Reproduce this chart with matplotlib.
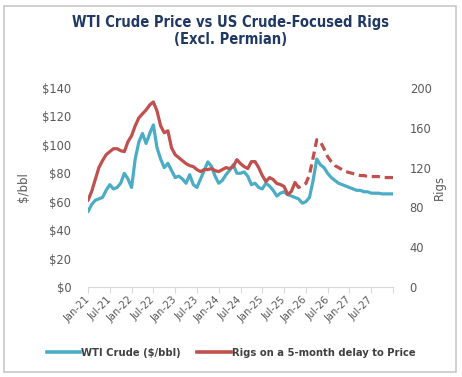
import matplotlib
matplotlib.use('Agg')
import matplotlib.pyplot as plt
from matplotlib.lines import Line2D
from matplotlib.patches import Rectangle

# monthly data, Jan-21 .. Jan-28 (index 0..84)
wti_price = [53, 58, 61, 62, 63, 68, 72, 69, 70, 73, 80, 76, 70, 90, 102, 108,
             101, 108, 114, 98, 90, 84, 87, 82, 77, 78, 76, 73, 79, 72, 70, 76,
             82, 88, 85, 78, 73, 75, 79, 82, 86, 80, 80, 81, 78, 72, 73, 70,
             69, 73, 71, 68, 64, 66, 67, 65, 64, 63, 62, 59, 60, 63, 75, 90,
             86, 84, 80, 77, 75, 73, 72, 71, 70, 69, 68, 68, 67, 67, 66, 66,
             66, 65.5, 65.5, 65.5, 65.5]
rigs_delayed = [87, 96, 108, 120, 127, 133, 136, 139, 139, 137, 136, 146, 152,
                162, 170, 174, 178, 183, 186, 177, 162, 155, 157, 140, 133, 130,
                127, 124, 122, 121, 118, 116, 118, 118, 119, 117, 116, 118, 120,
                119, 121, 128, 124, 121, 119, 126, 126, 120, 112, 106, 110, 108,
                104, 103, 101, 93, 96, 105, 100, 102, 104, 113, 130, 148, 146,
                139, 131, 126, 122, 120, 118, 116, 115, 114, 113, 112, 112, 111,
                111, 111, 111, 110, 110, 110, 110]
last_actual = 57  # rigs after this month are projected (dashed)

tick_labels = ['Jan-21', 'Jul-21', 'Jan-22', 'Jul-22', 'Jan-23', 'Jul-23', 'Jan-24',
               'Jul-24', 'Jan-25', 'Jul-25', 'Jan-26', 'Jul-26', 'Jan-27', 'Jul-27']
price_ticks = [0, 20, 40, 60, 80, 100, 120, 140]
rig_ticks = [0, 40, 80, 120, 160, 200]

BLUE = '#4BACC6'
RED = '#C0504D'
GRAY = '#595959'

months = list(range(len(wti_price)))

fig = plt.figure(figsize=(4.62, 3.77), dpi=100)
fig.patches.append(Rectangle((4 / 462, 5 / 377), 452 / 462, 366 / 377,
                             transform=fig.transFigure, fill=False,
                             edgecolor='#C8C8C8', linewidth=1.2))

ax = fig.add_axes([88 / 462, 90 / 377, 305 / 462, 199 / 377])
ax2 = ax.twinx()

ax.plot(months, wti_price, color=BLUE, linewidth=2.3, solid_capstyle='round', zorder=3)
ax2.plot(months[:last_actual + 1], rigs_delayed[:last_actual + 1], color=RED,
         linewidth=2.3, solid_capstyle='round')
ax2.plot(months[last_actual:], rigs_delayed[last_actual:], color=RED,
         linewidth=2.3, dashes=(2.6, 1.5))

ax.set_xlim(0, 84)
ax.set_ylim(0, 140)
ax2.set_ylim(0, 200)

ax.set_yticks(price_ticks)
ax.set_yticklabels(['$%d' % v for v in price_ticks])
ax2.set_yticks(rig_ticks)
ax.set_xticks(range(0, 85, 6))
ax.set_xticklabels(tick_labels + [''], rotation=45, ha='right',
                   rotation_mode='anchor', va='center')

for a in (ax, ax2):
    for s in ('top', 'left', 'right'):
        a.spines[s].set_visible(False)
    a.spines['bottom'].set_color('#D9D9D9')

ax.tick_params(axis='y', length=0, pad=12, labelsize=8.3, labelcolor=GRAY)
ax2.tick_params(axis='y', length=0, pad=12, labelsize=8.3, labelcolor=GRAY)
ax.tick_params(axis='x', length=4, color='#D9D9D9', labelsize=7.2,
               labelcolor=GRAY, pad=4)

ax.set_ylabel('$/bbl', fontsize=8.5, color=GRAY, labelpad=9)
ax2.set_ylabel('Rigs', fontsize=8.5, color=GRAY, labelpad=1)

fig.text(0.5, 1 - 22 / 377, 'WTI Crude Price vs US Crude-Focused Rigs',
         ha='center', va='center', fontsize=10.5, fontweight='bold',
         color='#1F3864', family='DejaVu Sans', fontstretch='condensed')
fig.text(0.5, 1 - 40 / 377, '(Excl. Permian)', ha='center', va='center',
         fontsize=10.5, fontweight='bold', color='#1F3864',
         family='DejaVu Sans', fontstretch='condensed')

handles = [Line2D([], [], color=BLUE, linewidth=2.6),
           Line2D([], [], color=RED, linewidth=2.6)]
fig.legend(handles, ['WTI Crude ($/bbl)', 'Rigs on a 5-month delay to Price'],
           loc='center', bbox_to_anchor=(0.5, 1 - 353 / 377), ncol=2,
           frameon=False, handlelength=3.0, handletextpad=0.1, columnspacing=1.5,
           prop={'family': 'DejaVu Sans', 'stretch': 'condensed',
                 'weight': 'bold', 'size': 8.0},
           labelcolor='#404040')

fig.savefig('out.png', dpi=100)
